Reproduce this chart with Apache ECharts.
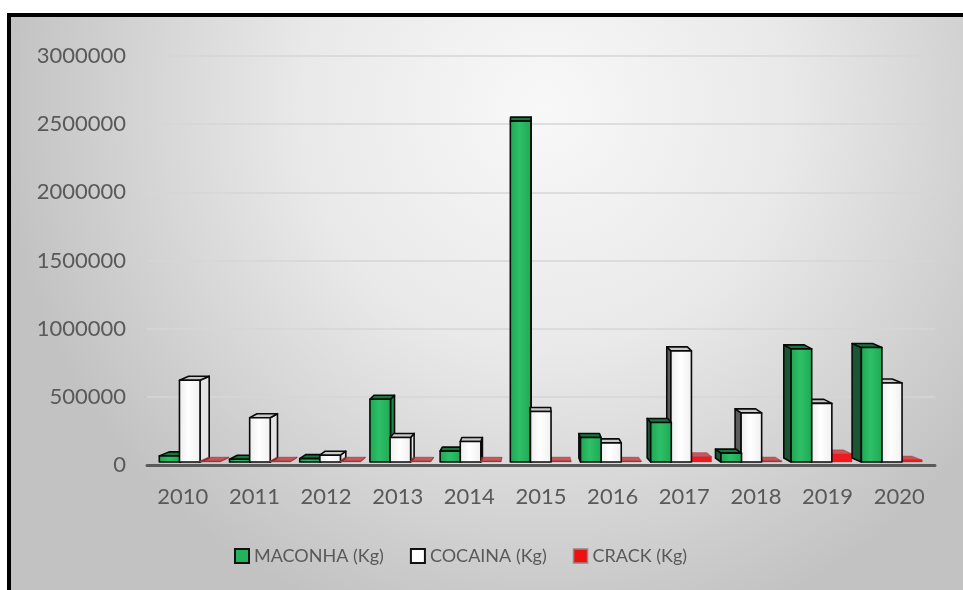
<!DOCTYPE html>
<html>
<head>
<meta charset="utf-8">
<script src="https://cdn.jsdelivr.net/npm/echarts@6/dist/echarts.min.js"></script>
<style>
  html, body { margin: 0; padding: 0; background: #ffffff; }
  #chart { width: 963px; height: 590px; }
</style>
</head>
<body>
<div id="chart"></div>
<script>
// Apreensões anuais por tipo de droga (Kg)
const years = ['2010', '2011', '2012', '2013', '2014', '2015', '2016', '2017', '2018', '2019', '2020'];
const maconha = [45000, 20000, 25000, 460000, 80000, 2500000, 180000, 290000, 65000, 830000, 840000];
const cocaina = [600000, 325000, 50000, 180000, 150000, 370000, 140000, 815000, 360000, 430000, 580000];
const crack = [6000, 6000, 6000, 6000, 6000, 8000, 6000, 40000, 8000, 60000, 15000];
const seriesNames = ['MACONHA (Kg)', 'COCAINA (Kg)', 'CRACK (Kg)'];
const yMin = 0;
const yMax = 3000000;
const yStep = 500000;

const FONT = 'Lato, "Open Sans", sans-serif';
const TEXT = '#595959';

// face colours for the pseudo-3D columns (sideL: side seen on the right, sideR: side seen on the left)
const faces = [
  {
    front: { type: 'linear', x: 0, y: 0, x2: 1, y2: 0,
      colorStops: [{ offset: 0, color: '#1ea553' }, { offset: 0.45, color: '#2dc067' }, { offset: 1, color: '#1fa855' }] },
    top: '#16763c', sideL: '#1b8c48', sideR: '#1b5634', stroke: '#0a0a0a', lineWidth: 1.6, legend: '#22b35c'
  },
  {
    front: { type: 'linear', x: 0, y: 0, x2: 1, y2: 0,
      colorStops: [{ offset: 0, color: '#ececec' }, { offset: 0.45, color: '#ffffff' }, { offset: 1, color: '#efefef' }] },
    top: '#c9c9c9', sideL: '#e4e4e4', sideR: '#5c5c5c', stroke: '#0a0a0a', lineWidth: 1.6, legend: '#ffffff'
  },
  {
    front: '#f01a1e',
    top: 'rgba(200,40,50,0.75)', sideL: '#b81d24', sideR: '#9c1a20', stroke: 'rgba(120,60,60,0.35)', lineWidth: 0.8, legend: '#ee1111'
  }
];

function columnRenderer(slot) {
  const f = faces[slot];
  return function (params, api) {
    const idx = api.value(0);
    const val = api.value(1);
    const cs = params.coordSys;
    const vpx = cs.x + cs.width / 2 - 12;
    const topPt = api.coord([idx, val]);
    const basePt = api.coord([idx, 0]);
    const band = api.size([1, 0])[0];
    const w = band * 0.287;
    let cx = topPt[0] + (slot - 1) * w;
    cx += (vpx - cx) * 0.02;
    const x0 = cx - w / 2;
    const x1 = cx + w / 2;
    const yb = basePt[1] - 3;
    const yt = Math.min(topPt[1] - 3, yb - 1);
    const dx = (vpx - cx) * 0.027;
    const dy = -4;
    const order = dx >= 0 ? slot : 2 - slot;
    const z0 = order * 10;
    const lineStyle = { stroke: f.stroke, lineWidth: f.lineWidth, lineJoin: 'round' };
    const sideX = dx >= 0 ? x1 : x0;
    return {
      type: 'group',
      children: [
        {
          type: 'polygon', z2: z0 + 1,
          shape: { points: [[sideX, yt], [sideX + dx, yt + dy], [sideX + dx, yb + dy], [sideX, yb]] },
          style: Object.assign({ fill: dx >= 0 ? f.sideL : f.sideR }, lineStyle)
        },
        {
          type: 'polygon', z2: z0 + 2,
          shape: { points: [[x0, yt], [x1, yt], [x1 + dx, yt + dy], [x0 + dx, yt + dy]] },
          style: Object.assign({ fill: f.top }, lineStyle)
        },
        {
          type: 'rect', z2: z0 + 3,
          shape: { x: x0, y: yt, width: w, height: yb - yt },
          style: Object.assign({ fill: f.front }, lineStyle)
        }
      ]
    };
  };
}

const allValues = [maconha, cocaina, crack];

const option = {
  backgroundColor: '#ffffff',
  animation: false,
  textStyle: { fontFamily: FONT },
  graphic: [
    {
      type: 'rect', z: -100, silent: true,
      shape: { x: 11, y: 17, width: 952, height: 573 },
      style: {
        fill: { type: 'radial', x: 0.56, y: 0.16, r: 0.95,
          colorStops: [{ offset: 0, color: '#f8f8f8' }, { offset: 0.45, color: '#e9e9e9' }, { offset: 1, color: '#c2c2c2' }] }
      }
    },
    { type: 'rect', z: -90, silent: true, shape: { x: 7, y: 13, width: 956, height: 4 }, style: { fill: '#000000' } },
    { type: 'rect', z: -90, silent: true, shape: { x: 7, y: 13, width: 4, height: 577 }, style: { fill: '#000000' } }
  ],
  grid: { left: 147, right: 28, top: 56, bottom: 125, containLabel: false },
  legend: {
    left: 234, top: 547, padding: 0,
    itemWidth: 14, itemHeight: 14, itemGap: 26,
    icon: 'rect',
    textStyle: { color: TEXT, fontSize: 18, fontFamily: FONT },
    data: seriesNames.map((n, i) => ({
      name: n,
      itemStyle: { color: faces[i].legend, borderColor: i === 2 ? '#8a8a8a' : '#111111', borderWidth: i === 2 ? 1.5 : 2 }
    }))
  },
  xAxis: {
    type: 'category',
    data: years,
    axisTick: { show: false },
    axisLine: { show: true, lineStyle: { color: '#5a5a5a', width: 3 } },
    axisLabel: { color: TEXT, fontSize: 22, margin: 21, fontFamily: FONT },
    splitLine: { show: false }
  },
  yAxis: {
    type: 'value',
    min: yMin, max: yMax, interval: yStep,
    axisLine: { show: false },
    axisTick: { show: false },
    axisLabel: { color: TEXT, fontSize: 22, margin: 21, fontFamily: FONT, formatter: (v) => String(v) },
    splitLine: { lineStyle: { color: '#d6d6d6', width: 1.5 } }
  },
  series: seriesNames.map((n, i) => ({
    name: n,
    type: 'custom',
    renderItem: columnRenderer(i),
    itemStyle: { color: faces[i].legend },
    encode: { x: 0, y: 1 },
    data: allValues[i].map((v, k) => [k, v])
  }))
};

const chart = echarts.init(document.getElementById('chart'), null, { renderer: 'canvas' });
chart.setOption(option);
</script>
</body>
</html>
